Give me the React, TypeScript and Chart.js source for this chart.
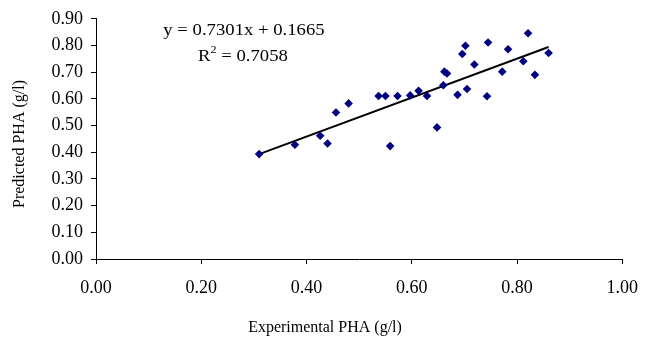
import React, { useEffect, useRef } from "react";
import { Chart, registerables } from "chart.js";

Chart.register(...registerables);

const experimental: number[] = [
  0.31, 0.378, 0.426, 0.44, 0.456, 0.48, 0.537, 0.55, 0.559, 0.573,
  0.597, 0.613, 0.629, 0.648, 0.66, 0.662, 0.667, 0.687, 0.696, 0.702,
  0.705, 0.719, 0.743, 0.745, 0.772, 0.783, 0.812, 0.821, 0.834, 0.86,
];
const predicted: number[] = [
  0.393, 0.428, 0.462, 0.433, 0.549, 0.583, 0.611, 0.611, 0.423, 0.611,
  0.613, 0.63, 0.611, 0.493, 0.651, 0.702, 0.695, 0.615, 0.768, 0.799,
  0.637, 0.729, 0.61, 0.811, 0.702, 0.786, 0.741, 0.846, 0.69, 0.772,
];
const slope = 0.7301;
const intercept = 0.1665;
const equationText = "y = 0.7301x + 0.1665";
const r2Value = " = 0.7058";
const xTitle = "Experimental PHA (g/l)";
const yTitle = "Predicted PHA (g/l)";

const FONT = "Liberation Serif, Times New Roman, serif";
const STRETCH = 1.1;

export default function App() {
  const ref = useRef<HTMLCanvasElement>(null);
  useEffect(() => {
    if (!ref.current) return;
    const pts = experimental.map((x, i) => ({ x, y: predicted[i] }));
    const xmin = Math.min(...experimental);
    const xmax = Math.max(...experimental);
    const trend = [
      { x: xmin, y: slope * xmin + intercept },
      { x: xmax, y: slope * xmax + intercept },
    ];
    const stretchedText = (ctx: any, text: string, cx: number, cy: number) => {
      ctx.save();
      ctx.translate(cx, cy);
      ctx.scale(STRETCH, 1);
      ctx.fillText(text, 0, 0);
      ctx.restore();
    };
    const textPlugin = {
      id: "texts",
      afterDraw(chart: any) {
        const ctx = chart.ctx;
        ctx.save();
        ctx.fillStyle = "#000";
        ctx.textAlign = "center";
        ctx.textBaseline = "middle";
        ctx.font = `16px ${FONT}`;
        ctx.fillText(xTitle, 325, 328);
        ctx.save();
        ctx.translate(20, 144);
        ctx.rotate(-Math.PI / 2);
        ctx.fillText(yTitle, 0, 0);
        ctx.restore();
        ctx.font = `17px ${FONT}`;
        stretchedText(ctx, equationText, 244, 31);
        // R^2 line
        ctx.textAlign = "left";
        const wR = ctx.measureText("R").width * STRETCH;
        const wV = ctx.measureText(r2Value).width * STRETCH;
        ctx.font = `11px ${FONT}`;
        const wS = ctx.measureText("2").width * STRETCH;
        const total = wR + wS + wV;
        const x0 = 243 - total / 2;
        ctx.font = `17px ${FONT}`;
        stretchedText(ctx, "R", x0, 57);
        ctx.font = `11px ${FONT}`;
        stretchedText(ctx, "2", x0 + wR, 50);
        ctx.font = `17px ${FONT}`;
        stretchedText(ctx, r2Value, x0 + wR + wS, 57);
        ctx.restore();
      },
    };
    const chart = new Chart(ref.current, {
      type: "scatter",
      data: {
        datasets: [
          {
            data: pts,
            pointStyle: "rectRot",
            pointRadius: 4.3,
            backgroundColor: "#000080",
            borderColor: "#000080",
            borderWidth: 0,
          },
          {
            type: "line",
            data: trend,
            borderColor: "#000",
            borderWidth: 2,
            pointRadius: 0,
            showLine: true,
            fill: false,
          } as any,
        ],
      },
      options: {
        responsive: false,
        animation: false,
        devicePixelRatio: 1,
        layout: { padding: { top: 14, right: 26, left: 0, bottom: 0 } },
        plugins: { legend: { display: false }, tooltip: { enabled: false } },
        scales: {
          x: {
            type: "linear",
            min: 0,
            max: 1,
            afterFit: (s: any) => {
              s.height = 79;
            },
            ticks: {
              stepSize: 0.2,
              color: "#000",
              font: { family: FONT, size: 18 },
              padding: 13,
              maxRotation: 0,
              callback: (v: any) => Number(v).toFixed(2),
            },
            grid: { drawOnChartArea: false, drawTicks: true, tickLength: 5, color: "#000" },
            border: { display: true, color: "#000", width: 1 },
          },
          y: {
            type: "linear",
            min: 0,
            max: 0.9,
            afterFit: (s: any) => {
              s.width = 96;
            },
            ticks: {
              stepSize: 0.1,
              color: "#000",
              font: { family: FONT, size: 18 },
              padding: 8,
              callback: (v: any) => Number(v).toFixed(2),
            },
            grid: { drawOnChartArea: false, drawTicks: true, tickLength: 5, color: "#000" },
            border: { display: true, color: "#000", width: 1 },
          },
        },
      },
      plugins: [textPlugin],
    });
    return () => chart.destroy();
  }, []);
  return (
    <div style={{ position: "fixed", left: 0, top: 0, width: 651, height: 338, background: "#fff" }}>
      <canvas ref={ref} width={651} height={338} style={{ display: "block" }} />
    </div>
  );
}
